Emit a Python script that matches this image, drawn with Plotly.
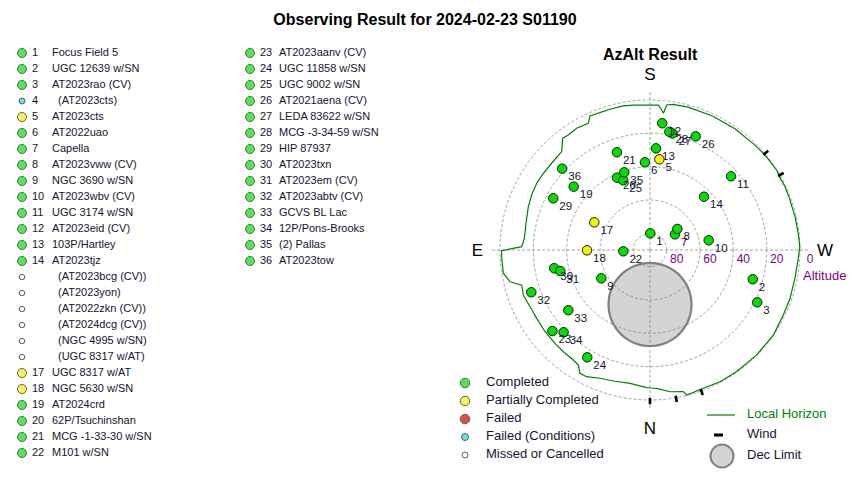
import math
import plotly.graph_objects as go

# ---------------- data ----------------
title_text = "Observing Result for 2024-02-23 S01190"
subtitle_text = "AzAlt Result"

target_numbers = ["1", "2", "3", "4", "5", "6", "7", "8", "9", "10", "11", "12", "13", "14",
                  "", "", "", "", "", "",
                  "17", "18", "19", "20", "21", "22",
                  "23", "24", "25", "26", "27", "28", "29", "30", "31", "32", "33", "34", "35", "36"]
target_names = ["Focus Field 5", "UGC 12639 w/SN", "AT2023rao (CV)", "(AT2023cts)", "AT2023cts",
                "AT2022uao", "Capella", "AT2023vww (CV)", "NGC 3690 w/SN", "AT2023wbv (CV)",
                "UGC 3174 w/SN", "AT2023eid (CV)", "103P/Hartley", "AT2023tjz",
                "(AT2023bcg (CV))", "(AT2023yon)", "(AT2022zkn (CV))", "(AT2024dcg (CV))",
                "(NGC 4995 w/SN)", "(UGC 8317 w/AT)",
                "UGC 8317 w/AT", "NGC 5630 w/SN", "AT2024crd", "62P/Tsuchinshan",
                "MCG -1-33-30 w/SN", "M101 w/SN",
                "AT2023aanv (CV)", "UGC 11858 w/SN", "UGC 9002 w/SN", "AT2021aena (CV)",
                "LEDA 83622 w/SN", "MCG -3-34-59 w/SN", "HIP 87937", "AT2023txn",
                "AT2023em (CV)", "AT2023abtv (CV)", "GCVS BL Lac", "12P/Pons-Brooks",
                "(2) Pallas", "AT2023tow"]
# C = completed, P = partially completed, F = failed, FC = failed (conditions), M = missed/cancelled
target_status = ["C", "C", "C", "FC", "P", "C", "C", "C", "C", "C", "C", "C", "C", "C",
                 "M", "M", "M", "M", "M", "M",
                 "P", "P", "C", "C", "C", "C",
                 "C", "C", "C", "C", "C", "C", "C", "C", "C", "C", "C", "C", "C", "C"]
target_az = [181.0, 285.9, 296.0, None, 185.9, 176.7, 237.9, 232.4, 59.8, 260.6, 227.7, 185.5, 183.4, 225.4,
             None, None, None, None, None, None,
             116.4, 89.7, 129.7, 155.5, 161.3, 87.2,
             50.3, 30.3, 159.0, 201.9, 190.9, 189.3, 118.1, 79.2, 76.8, 70.4, 53.6, 46.4, 161.7, 132.8]
target_alt = [80.0, 25.9, 18.4, None, 35.3, 37.3, 72.3, 69.3, 56.2, 54.3, 24.3, 13.6, 28.9, 44.5,
              None, None, None, None, None, None,
              52.7, 52.2, 30.5, 42.3, 28.1, 74.0,
              13.9, 15.4, 45.2, 16.5, 18.8, 18.1, 24.2, 31.5, 34.7, 14.4, 29.1, 18.4, 40.9, 18.2]

horizon_az = [0, 1.4, 8.5, 15.6, 21.3, 26.6, 29.6, 31.9, 34.9, 40.4, 45.5, 52.1, 58.9, 64.7, 70.4,
              74.7, 77.2, 81.0, 86.8, 89.7, 91.5, 95.3, 102.2, 109.6, 114.9, 120.5, 125.7, 131.4,
              138.1, 142.0, 144.6, 148.9, 154.0, 155.9, 160.0, 164.1, 169.5, 173.5, 178.7, 183.3,
              184.8, 185.6, 186.6, 189.0, 195, 205, 215, 225, 229, 233, 238, 241, 245, 250, 257,
              263.6, 268.7, 273.2, 281, 289, 296, 304.6, 314.5, 324.5, 332, 338.9, 345.8, 346.8,
              352, 357.2, 360]
horizon_alt = [7.2, 7.4, 9.1, 8.4, 7.4, 5.0, 4.9, 8.7, 9.5, 9.8, 10.1, 10.2, 10.6, 10.4, 9.3,
               10.2, 3.9, 0.9, 0.9, 0.9, 13.0, 14.3, 13.9, 12.5, 11.7, 11.1, 11.2, 11.3,
               10.7, 4.9, 5.4, 4.7, 5.5, 1.9, 2.3, 2.2, 2.1, 2.5, 3.0, 2.9,
               5.7, 7.6, 2.4, 1.5, 1.3, 1.3, 1.2, 1.0, 0.7, 0.5, 0.2, 0.8, 0.5, 0.8, 0.7,
               0.5, 0.1, 0.9, 1.4, 1.1, 1.0, 0.1, 0.2, 0.4, 0.5, 1.1, 0.2, 2.7,
               4.1, 6.9, 7.2]

wind_az = [0, 340, 350, 230, 240]

dec_limit_center_az = 0.0
dec_limit_center_alt = 57.3
dec_limit_radius = 24.9

altitude_ticks = [80, 60, 40, 20, 0]
compass_az = [0, 90, 180, 270]
compass_labels = ["N", "E", "S", "W"]

status_codes = ["C", "P", "F", "FC", "M"]
status_labels = ["Completed", "Partially Completed", "Failed", "Failed (Conditions)", "Missed or Cancelled"]
other_legend_labels = ["Local Horizon", "Wind", "Dec Limit"]

# ---------------- style ----------------
FONT = "Liberation Sans, Arial, sans-serif"
TXT = "#141432"
PURPLE = "#800080"
GRID = "#a3a3a3"
status_fill = {"C": "#00e000", "P": "#f4f400", "F": "#e00000", "FC": "#20d6e0", "M": "#ffffff"}
status_size = {"C": 9, "P": 9, "F": 9, "FC": 6, "M": 5.5}
HORIZON = "#008000"
NB = "\u00a0"

W, H = 850, 480
ROWS_PER_COL = 26
col_marker_x = [22, 250]

fig = go.Figure()

# ---------------- sky chart (polar) ----------------
fig.add_trace(go.Scatterpolar(
    r=[90 - a for a in horizon_alt], theta=horizon_az, mode="lines",
    line=dict(color=HORIZON, width=1.2), hoverinfo="skip", showlegend=False))

steps = list(range(0, 361, 4))
dn = [(90 - dec_limit_center_alt) + dec_limit_radius * math.cos(math.radians(s)) for s in steps]
de = [dec_limit_radius * math.sin(math.radians(s)) for s in steps]
fig.add_trace(go.Scatterpolar(
    r=[math.hypot(n, e) for n, e in zip(dn, de)],
    theta=[dec_limit_center_az + math.degrees(math.atan2(e, n)) for n, e in zip(dn, de)],
    mode="lines", fill="toself", fillcolor="rgba(128,128,128,0.34)",
    line=dict(color="#808080", width=2.2), hoverinfo="skip", showlegend=False))

wr, wt = [], []
for a in wind_az:
    wr += [90 - 1.2, 90 + 2.6, None]
    wt += [a, a, None]
fig.add_trace(go.Scatterpolar(r=wr, theta=wt, mode="lines",
                              line=dict(color="black", width=2.6), hoverinfo="skip", showlegend=False))

for s in ["C", "P", "F"]:
    idx = [i for i in range(len(target_names)) if target_status[i] == s and target_alt[i] is not None]
    if not idx:
        continue
    rr = [90 - target_alt[i] for i in idx]
    tt = [target_az[i] for i in idx]
    fig.add_trace(go.Scatterpolar(
        r=rr, theta=tt, mode="markers",
        marker=dict(size=9.5, color=status_fill[s], line=dict(color="#1a1a1a", width=1)),
        hoverinfo="skip", showlegend=False))
    fig.add_trace(go.Scatterpolar(
        r=rr, theta=tt, mode="markers+text", text=[NB + target_numbers[i] for i in idx],
        textposition="bottom right", marker=dict(size=3, color="rgba(0,0,0,0)"),
        textfont=dict(family=FONT, size=11.5, color=TXT), hoverinfo="skip", showlegend=False))

# ---------------- target list ----------------
n = len(target_names)
cols = [0 if i < ROWS_PER_COL else 1 for i in range(n)]
rows = [i if i < ROWS_PER_COL else i - ROWS_PER_COL for i in range(n)]
mx = [col_marker_x[c] for c in cols]
fig.add_trace(go.Scatter(
    x=mx, y=rows, mode="markers", xaxis="x", yaxis="y",
    marker=dict(size=[status_size[s] for s in target_status],
                color=[status_fill[s] for s in target_status],
                line=dict(color="#1a1a1a", width=1)),
    hoverinfo="skip", showlegend=False))
fig.add_trace(go.Scatter(
    x=[m + 10 for m in mx], y=rows, mode="text", text=target_numbers, textposition="middle right",
    xaxis="x", yaxis="y", textfont=dict(family=FONT, size=11, color=TXT), hoverinfo="skip", showlegend=False))
indent = [6 if (target_numbers[i] == "" or target_status[i] == "FC") else 0 for i in range(n)]
fig.add_trace(go.Scatter(
    x=[m + (30 if c == 0 else 29) + d for m, c, d in zip(mx, cols, indent)], y=rows, mode="text",
    text=target_names, textposition="middle right", xaxis="x", yaxis="y",
    textfont=dict(family=FONT, size=11, color=TXT), hoverinfo="skip", showlegend=False))

# ---------------- legend panel ----------------
leg1_y = [383, 401, 419, 437, 455]
fig.add_trace(go.Scatter(
    x=[465] * 5, y=leg1_y, mode="markers", xaxis="x2", yaxis="y2",
    marker=dict(size=[9.5, 9.5, 9.5, 7, 6], color=[status_fill[s] for s in status_codes],
                line=dict(color="#1a1a1a", width=1)), hoverinfo="skip", showlegend=False))
fig.add_trace(go.Scatter(
    x=[486] * 5, y=leg1_y, mode="text", text=status_labels, textposition="middle right",
    xaxis="x2", yaxis="y2", textfont=dict(family=FONT, size=13, color=TXT), hoverinfo="skip", showlegend=False))
leg2_y = [415, 435, 456]
fig.add_trace(go.Scatter(x=[707, 735], y=[leg2_y[0]] * 2, mode="lines", xaxis="x2", yaxis="y2",
                         line=dict(color=HORIZON, width=1.2), hoverinfo="skip", showlegend=False))
fig.add_trace(go.Scatter(x=[714, 723], y=[leg2_y[1]] * 2, mode="lines", xaxis="x2", yaxis="y2",
                         line=dict(color="black", width=3), hoverinfo="skip", showlegend=False))
fig.add_trace(go.Scatter(x=[722], y=[leg2_y[2]], mode="markers", xaxis="x2", yaxis="y2",
                         marker=dict(size=23, color="#d3d3d3", line=dict(color="#808080", width=2)),
                         hoverinfo="skip", showlegend=False))
fig.add_trace(go.Scatter(
    x=[747] * 3, y=leg2_y, mode="text", text=other_legend_labels, textposition="middle right",
    xaxis="x2", yaxis="y2", textfont=dict(family=FONT, size=13, color=[HORIZON, TXT, TXT]),
    hoverinfo="skip", showlegend=False))

fig.update_layout(
    width=W, height=H, margin=dict(l=0, r=0, t=0, b=0),
    paper_bgcolor="white", plot_bgcolor="rgba(0,0,0,0)",
    font=dict(family=FONT, color=TXT),
    title=dict(text="<b>" + title_text + "</b>", x=0.5, xanchor="center", y=1 - 19 / H, yanchor="middle",
               yref="container", font=dict(size=16, color="black", family=FONT)),
    xaxis=dict(domain=[0, 0.5], range=[0, 425], visible=False, fixedrange=True),
    yaxis=dict(domain=[1 - 461 / H, 1 - 45 / H], range=[ROWS_PER_COL - 0.5, -0.5], visible=False, fixedrange=True),
    xaxis2=dict(domain=[0.5, 1], range=[425, 850], visible=False, fixedrange=True),
    yaxis2=dict(domain=[0, 0.25], range=[480, 360], visible=False, fixedrange=True),
    polar=dict(
        domain=dict(x=[490 / W, 810 / W], y=[1 - 410 / H, 1 - 90 / H]),
        bgcolor="rgba(0,0,0,0)",
        radialaxis=dict(range=[0, 96], tickmode="array", tickvals=[90 - a for a in altitude_ticks],
                        ticktext=[NB * 6 + str(a) for a in altitude_ticks], tickangle=0,
                        showline=False, ticks="", angle=0, side="clockwise",
                        gridcolor=GRID, griddash="3px,2px", gridwidth=1,
                        tickfont=dict(family=FONT, size=12, color=PURPLE)),
        angularaxis=dict(rotation=270, direction="clockwise", tickmode="array", tickvals=compass_az,
                         ticktext=compass_labels, showline=False, ticks="outside", ticklen=3,
                         tickcolor="rgba(0,0,0,0)",
                         gridcolor=GRID, griddash="3px,2px", gridwidth=1,
                         tickfont=dict(family=FONT, size=17, color="black")),
    ),
    annotations=[
        dict(text="<b>" + subtitle_text + "</b>", x=650 / W, y=1 - 54 / H, xref="paper", yref="paper",
             showarrow=False, font=dict(size=16, color="black", family=FONT), xanchor="center", yanchor="middle"),
        dict(text="Altitude", x=801 / W, y=1 - 275 / H, xref="paper", yref="paper", showarrow=False,
             font=dict(size=13, color=PURPLE, family=FONT), xanchor="left", yanchor="middle"),
    ],
)

fig.write_html("out.html", config={"displayModeBar": False},
               post_script="document.body.style.margin='0px';document.body.style.overflow='hidden';")
